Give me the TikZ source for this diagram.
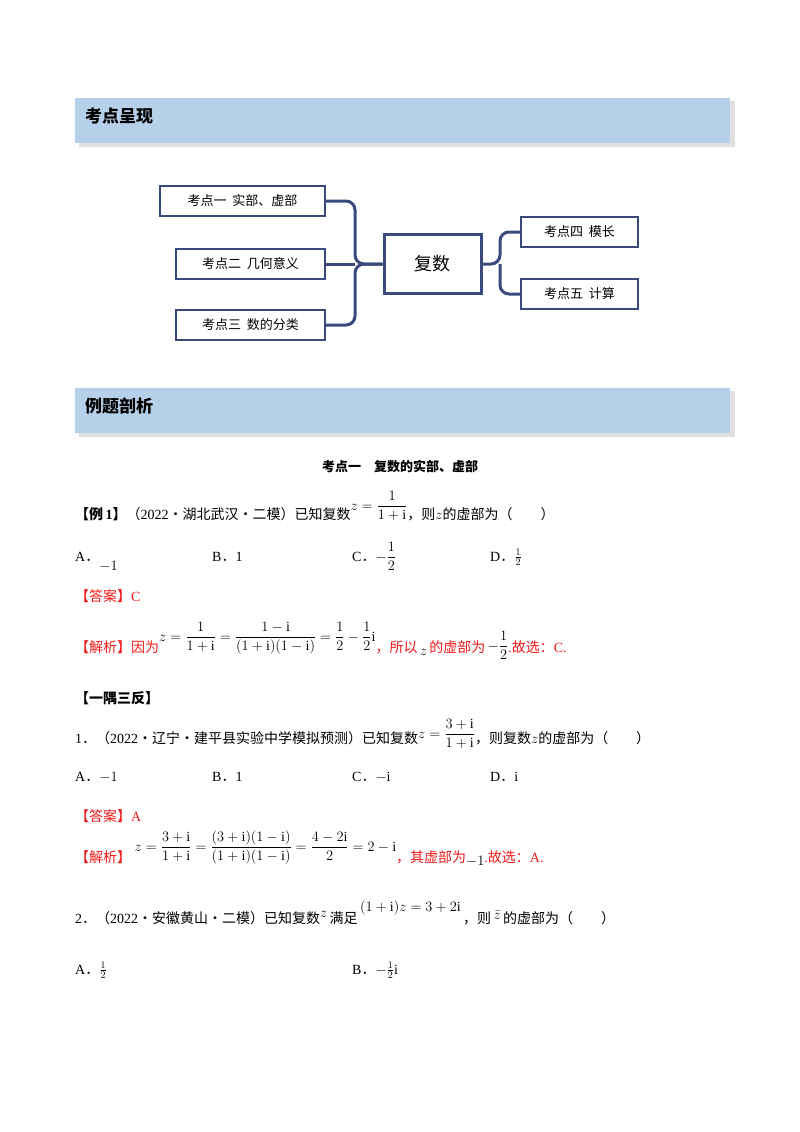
\documentclass[tikz,border=0pt]{standalone}
\usepackage{amsmath}
\usepackage{fontspec}
\setmainfont{Liberation Serif}
\newfontfamily\cjk{Noto Sans CJK SC}
\newcommand{\C}[1]{{\cjk #1}}
\newcommand{\Rz}[2]{\raisebox{#1}{#2}}
\definecolor{navy}{HTML}{3B4A7C}
\definecolor{band}{HTML}{B7D0EA}
\definecolor{ansred}{HTML}{F01818}
\tikzset{
  mbox/.style={draw=navy,line width=1.5pt,fill=white,minimum height=30pt,font=\cjk\fontsize{13}{15}\selectfont,inner sep=0pt},
  conn/.style={navy,line width=3pt,rounded corners=9pt},
  txt/.style={anchor=base west,inner sep=0pt,font=\fontsize{14}{16}\selectfont},
  red/.style={txt,text=ansred}
}
\begin{document}
\begin{tikzpicture}[x=1pt,y=-1pt]
\useasboundingbox (0,0) rectangle (800,1132);
% banners
\foreach \y/\t/\n in {98/考点呈现/ba,388/例题剖析/bb}{
  \fill[black!12] (79,\y+3) rectangle (735,\y+49);
  \fill[band] (75,\y) rectangle (730,\y+45);
  \node[anchor=west,inner sep=0pt,font=\cjk\bfseries\fontsize{17}{19}\selectfont] (\n) at (85,\y+18) {\t};
}
% mind map
\node[mbox,minimum width=165pt] (b1) at (242.5,201) {考点一\ \ 实部、虚部};
\node[mbox,minimum width=149pt] (b2) at (250.5,264) {考点二\ \ 几何意义};
\node[mbox,minimum width=149pt] (b3) at (250.5,325) {考点三\ \ 数的分类};
\node[draw=navy,line width=3pt,fill=white,minimum width=97pt,minimum height=59pt,font=\cjk\fontsize{18}{20}\selectfont,inner sep=0pt] (c) at (432.5,264) {复数};
\node[mbox,minimum width=117pt] (b4) at (579.5,232) {考点四\ \ 模长};
\node[mbox,minimum width=117pt] (b5) at (579.5,294) {考点五\ \ 计算};
\coordinate (jl) at (355,264);
\coordinate (jr) at (500,264);
\draw[conn] (b1.east) -| (jl) -- (c.west);
\draw[conn] (b3.east) -| (jl) -- (c.west);
\draw[conn] (b2.east) -- (jl);
\draw[conn] (c.east) -- (jr) |- (b4.west);
\draw[conn] (jr) |- (b5.west);
% section title
\node[txt,anchor=base,font=\cjk\bfseries\fontsize{13}{15}\selectfont] (st) at (400,471) {考点一\quad 复数的实部、虚部};
% example 1
\node[txt] (e1) at (75,519) {\textbf{\C{【例}\,1\C{】}}\C{（}2022\C{·湖北武汉·二模）已知复数}\Rz{9pt}{$z=\dfrac{1}{1+\mathrm{i}}$}\C{，则}$z$\C{的虚部为（}\qquad\C{）}};
\node[txt] (oA) at (75,561) {A\C{．}\Rz{-9pt}{$-1$}};
\node[txt] (oB) at (212,561) {B\C{．}1};
\node[txt] (oC) at (352,561) {C\C{．}$-\dfrac{1}{2}$};
\node[txt] (oD) at (490,561) {D\C{．}$\frac{1}{2}$};
\node[red] (ans1) at (75,601) {\C{【答案】}C};
\node[red] (jx1) at (75,652) {\C{【解析】因为}\textcolor{black}{\Rz{11pt}{$z=\dfrac{1}{1+\mathrm{i}}=\dfrac{1-\mathrm{i}}{(1+\mathrm{i})(1-\mathrm{i})}=\dfrac{1}{2}-\dfrac{1}{2}\mathrm{i}$}}\C{，所以}\,\textcolor{black}{\Rz{-3pt}{$z$}}\,\C{的虚部为}\,\textcolor{black}{\Rz{2pt}{$-\dfrac{1}{2}$}}.\C{故选：}C.};
% yiyu sanfan
\node[txt,font=\cjk\bfseries\fontsize{14}{16}\selectfont] (yy) at (75,703) {【一隅三反】};
\node[txt] (q1) at (75,743) {1\C{．（}2022\C{·辽宁·建平县实验中学模拟预测）已知复数}\Rz{5pt}{$z=\dfrac{3+\mathrm{i}}{1+\mathrm{i}}$}\C{，则复数}$z$\C{的虚部为（}\qquad\C{）}};
\node[txt] (pA) at (75,781) {A\C{．}$-1$};
\node[txt] (pB) at (212,781) {B\C{．}1};
\node[txt] (pC) at (352,781) {C\C{．}$-\mathrm{i}$};
\node[txt] (pD) at (490,781) {D\C{．}$\mathrm{i}$};
\node[red] (ans2) at (75,821) {\C{【答案】}A};
\node[red] (jx2) at (75,862) {\C{【解析】}\ \textcolor{black}{\Rz{11pt}{$z=\dfrac{3+\mathrm{i}}{1+\mathrm{i}}=\dfrac{(3+\mathrm{i})(1-\mathrm{i})}{(1+\mathrm{i})(1-\mathrm{i})}=\dfrac{4-2\mathrm{i}}{2}=2-\mathrm{i}$}}\C{，其虚部为}\textcolor{black}{\Rz{-3pt}{$-1$}}.\C{故选：}A.};
% question 2
\node[txt] (q2) at (75,923) {2\C{．（}2022\C{·安徽黄山·二模）已知复数}\Rz{6pt}{$z$}\,\C{满足}\,\Rz{12pt}{$(1+\mathrm{i})z=3+2\mathrm{i}$}\,\C{，则}\,\Rz{4pt}{$\bar{z}$}\,\C{的虚部为（}\qquad\C{）}};
\node[txt] (rA) at (75,974) {A\C{．}$\frac{1}{2}$};
\node[txt] (rB) at (352,974) {B\C{．}$-\frac{1}{2}\mathrm{i}$};
\end{tikzpicture}
\end{document}
